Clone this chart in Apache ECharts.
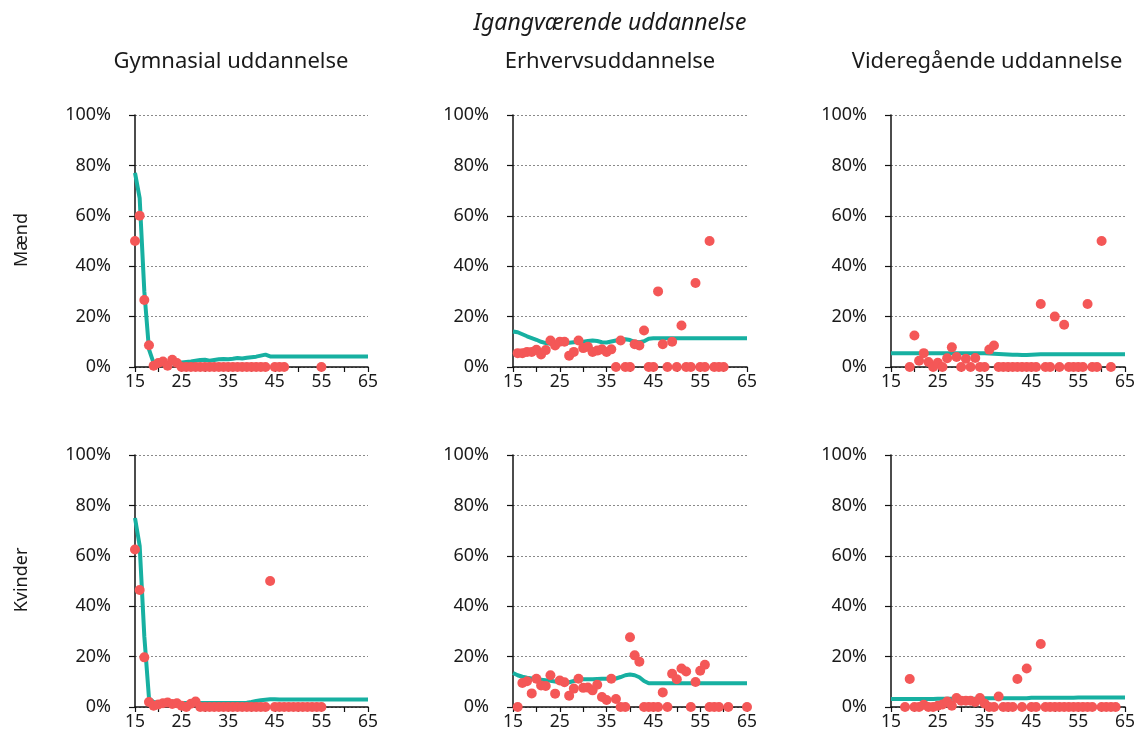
<!DOCTYPE html>
<html>
<head>
<meta charset="utf-8">
<script src="https://cdn.jsdelivr.net/npm/echarts@6/dist/echarts.min.js"></script>
<style>
html,body{margin:0;padding:0;background:#fff;}
#chart{width:1142px;height:751px;}
</style>
</head>
<body>
<div id="chart"></div>
<script>
// ---------- DATA ----------
const mainTitle = 'Igangværende uddannelse';
const columnTitles = ['Gymnasial uddannelse', 'Erhvervsuddannelse', 'Videregående uddannelse'];
const rowTitles = ['Mænd', 'Kvinder'];
const xTickLabels = [15, 25, 35, 45, 55, 65];
const yTickLabels = [0, 20, 40, 60, 80, 100];

// Line (model) ages 15..65
const lineAges = [15,16,17,18,19,20,21,22,23,24,25,26,27,28,29,30,31,32,33,34,35,36,37,38,39,40,
  41,42,43,44,45,46,47,48,49,50,51,52,53,54,55,56,57,58,59,60,61,62,63,64,65];

const lineGymMaend = [77,67,30,7,1.5,1.5,1.5,1.5,1.5,1.6,1.8,2.0,2.2,2.5,2.8,2.9,2.5,2.8,3.1,3.2,
  3.1,3.3,3.6,3.4,3.7,3.9,4.1,4.5,4.9,4.2,4.2,4.2,4.2,4.2,4.2,4.2,4.2,4.2,4.2,4.2,4.2,4.2,4.2,4.2,4.2,4.2,4.2,4.2,4.2,4.2,4.2];
const lineErhvMaend = [14.1,13.8,13.0,12.2,11.5,10.8,10.0,9.5,9.2,9.3,9.4,9.5,9.6,9.8,9.9,10.0,10.3,10.5,10.3,9.8,
  9.7,10.1,10.5,10.8,11.0,10.7,10.0,9.8,10.2,11.2,11.4,11.4,11.4,11.4,11.4,11.4,11.4,11.4,11.4,11.4,11.4,11.4,11.4,11.4,11.4,11.4,11.4,11.4,11.4,11.4,11.4];
const lineVidMaend = [5.5,5.5,5.5,5.5,5.5,5.5,5.5,5.5,5.5,5.5,5.5,5.5,5.5,5.5,5.5,5.5,5.5,5.5,5.5,5.5,5.5,
  5.4,5.3,5.2,5.1,5.0,4.9,4.9,4.8,4.8,4.9,5.0,5.1,5.1,5.1,5.1,5.1,5.1,5.1,5.1,5.1,5.1,5.1,5.1,5.1,5.1,5.1,5.1,5.1,5.1,5.1];
const lineGymKvinder = [75,64,28,3.5,2.0,1.6,1.6,1.6,1.6,1.6,1.6,1.6,1.6,1.6,1.6,1.6,1.6,1.6,1.6,1.6,1.6,1.6,1.6,1.6,
  1.7,2.0,2.4,2.7,2.9,3.1,3.1,3.0,3.0,3.0,3.0,3.0,3.0,3.0,3.0,3.0,3.0,3.0,3.0,3.0,3.0,3.0,3.0,3.0,3.0,3.0,3.0];
const lineErhvKvinder = [13.5,12.6,12.0,11.6,11.3,11.0,10.8,10.6,10.4,10.1,9.9,9.7,9.8,10.3,10.8,11.0,11.0,11.0,11.1,11.2,
  11.2,11.1,11.3,11.9,12.6,12.9,12.6,11.8,10.3,9.4,9.4,9.4,9.4,9.4,9.4,9.4,9.4,9.4,9.4,9.4,9.4,9.4,9.4,9.4,9.4,9.4,9.4,9.4,9.4,9.4,9.4];
const lineVidKvinder = [3.2,3.2,3.2,3.2,3.2,3.2,3.2,3.2,3.2,3.2,3.3,3.3,3.3,3.3,3.3,3.3,3.3,3.3,3.3,3.3,
  3.5,3.5,3.5,3.5,3.5,3.5,3.5,3.5,3.5,3.5,3.7,3.7,3.7,3.7,3.7,3.7,3.7,3.7,3.7,3.7,3.8,3.8,3.8,3.8,3.8,3.8,3.8,3.8,3.8,3.8,3.8];

// Observed points
const ptAgesGymMaend = [15,16,17,18,19,20,21,22,23,24,25,26,27,28,29,30,31,32,33,34,35,36,37,38,39,40,41,42,43,45,46,47,55];
const ptGymMaend = [50,60,26.6,8.6,0.5,1.6,2.2,0.5,2.9,1.6,0,0,0,0,0,0,0,0,0,0,0,0,0,0,0,0,0,0,0,0,0,0,0];

const ptAgesErhvMaend = [16,17,18,19,20,21,22,23,24,25,26,27,28,29,30,31,32,33,34,35,36,37,38,39,40,41,42,43,44,45,
  46,47,48,49,50,51,52,53,54,55,56,57,58,59,60];
const ptErhvMaend = [5.5,5.5,6,6,6.8,5,6.7,10.5,8.5,10,10,4.5,6,10.5,7.5,8,6,6.5,7,6,7,0,10.5,0,0,9,8.5,14.5,0,0,
  30,9,0,10,0,16.5,0,0,33.3,0,0,50,0,0,0];

const ptAgesVidMaend = [19,20,21,22,23,24,25,26,27,28,29,30,31,32,33,34,35,36,37,38,39,40,41,42,43,44,45,46,
  47,48,49,50,51,52,53,54,55,56,57,58,59,60,62];
const ptVidMaend = [0,12.5,2.5,5.5,2,0,1.7,0,3.5,7.8,4,0,3.3,0,3.6,0,0,6.9,8.5,0,0,0,0,0,0,0,0,0,
  25,0,0,20,0,16.8,0,0,0,0,25,0,0,50,0];

const ptAgesGymKvinder = [15,16,17,18,19,20,21,22,23,24,25,26,27,28,29,30,31,32,33,34,35,36,37,38,39,40,41,42,43,44,
  45,46,47,48,49,50,51,52,53,54,55];
const ptGymKvinder = [62.5,46.4,19.7,2,0.5,1,1.5,1.8,1.2,1.5,0.5,0,1.3,2.2,0,0,0,0,0,0,0,0,0,0,0,0,0,0,0,50,
  0,0,0,0,0,0,0,0,0,0,0];

const ptAgesErhvKvinder = [16,17,18,19,20,21,22,23,24,25,26,27,28,29,30,31,32,33,34,35,36,37,38,39,40,41,42,43,44,45,
  46,47,48,49,50,51,52,53,54,55,56,57,58,59,61,65];
const ptErhvKvinder = [0,9.5,10.2,5.4,11.2,8.5,8.3,12.6,5.3,10.5,9.8,4.5,7.3,11.2,7.6,7.7,6.6,8.8,4,2.8,11.2,3.2,0,0,27.7,20.5,18,0,0,0,
  0,5.8,0,13.2,11,15.3,14.1,0,9.9,14.4,16.8,0,0,0,0,0];

const ptAgesVidKvinder = [18,19,20,21,22,23,24,25,26,27,28,29,30,31,32,33,34,35,36,37,38,39,40,41,42,43,44,45,46,47,
  48,49,50,51,52,53,54,55,56,57,58,60,61,62,63];
const ptVidKvinder = [0,11.1,0,0,0.9,0,0,0.5,1,2.2,0.5,3.6,2.5,2.5,2.5,2,3.6,1.4,0,0,4.2,0,0,0,11.1,0,15.3,0,0,25,
  0,0,0,0,0,0,0,0,0,0,0,0,0,0,0];

// ---------- BUILD ----------
const panels = [
  {lineY: lineGymMaend, ptX: ptAgesGymMaend, ptY: ptGymMaend},
  {lineY: lineErhvMaend, ptX: ptAgesErhvMaend, ptY: ptErhvMaend},
  {lineY: lineVidMaend, ptX: ptAgesVidMaend, ptY: ptVidMaend},
  {lineY: lineGymKvinder, ptX: ptAgesGymKvinder, ptY: ptGymKvinder},
  {lineY: lineErhvKvinder, ptX: ptAgesErhvKvinder, ptY: ptErhvKvinder},
  {lineY: lineVidKvinder, ptX: ptAgesVidKvinder, ptY: ptVidKvinder}
];

const FONT = 'Noto Sans';
const TXT = '#1a1a1a';
const TEAL = '#17b0a1';
const RED = '#f45757';
const colLeft = [135, 513, 891];
const colWidth = [233, 234, 234];
const rowTop = [115, 455];
const gridH = 252;

const grids = [], xAxes = [], yAxes = [], series = [];
panels.forEach((p, i) => {
  const c = i % 3, r = Math.floor(i / 3);
  grids.push({left: colLeft[c], top: rowTop[r], width: colWidth[c], height: gridH, containLabel: false});
  xAxes.push({
    type: 'value', gridIndex: i, position: 'bottom', min: xTickLabels[0], max: xTickLabels[xTickLabels.length - 1], interval: 5,
    axisLine: {show: true, onZero: false, lineStyle: {color: '#111', width: 1.5}},
    axisTick: {show: true, length: 5, lineStyle: {color: '#111', width: 1.2}},
    axisLabel: {
      fontFamily: FONT, fontSize: 17.5, color: TXT, margin: 6, verticalAlign: 'top',
      formatter: v => (xTickLabels.indexOf(v) >= 0 ? String(v) : '')
    },
    splitLine: {show: false}
  });
  yAxes.push({
    type: 'value', gridIndex: i, min: yTickLabels[0], max: yTickLabels[yTickLabels.length - 1], interval: 20,
    axisLine: {show: true, lineStyle: {color: '#111', width: 1.5}},
    axisTick: {show: true, length: 6, lineStyle: {color: '#111', width: 1.2}},
    axisLabel: {fontFamily: FONT, fontSize: 18, color: TXT, margin: 24, formatter: '{value}%'},
    splitLine: {show: true, lineStyle: {color: '#8a8a8a', type: [2, 2], width: 1}}
  });
  series.push({
    type: 'line', xAxisIndex: i, yAxisIndex: i, showSymbol: false, symbol: 'none',
    data: lineAges.map((a, k) => [a, p.lineY[k]]),
    lineStyle: {color: TEAL, width: 4}, z: 2, silent: true
  });
  series.push({
    type: 'scatter', xAxisIndex: i, yAxisIndex: i, symbolSize: 10,
    data: p.ptX.map((a, k) => [a, p.ptY[k]]),
    itemStyle: {color: RED, opacity: 1}, z: 3, silent: true
  });
});

const titles = [
  {text: mainTitle, left: 605, top: 7, textAlign: 'center',
   textStyle: {fontFamily: FONT, fontSize: 23, fontWeight: 'normal', fontStyle: 'italic', color: TXT}}
];
const colCenters = [226, 605, 982];
columnTitles.forEach((t, c) => titles.push({
  text: t, left: colCenters[c], top: 46, textAlign: 'center',
  textStyle: {fontFamily: FONT, fontSize: 22, fontWeight: 'normal', color: TXT}
}));

const rowCenters = [240, 580];
const graphics = rowTitles.map((t, r) => ({
  type: 'text', x: 22, y: rowCenters[r], rotation: Math.PI / 2,
  style: {text: t, font: '18px "' + FONT + '"', fill: TXT, textAlign: 'center', textVerticalAlign: 'middle'}
}));

const chart = echarts.init(document.getElementById('chart'), null, {renderer: 'canvas'});
chart.setOption({
  animation: false,
  backgroundColor: '#fff',
  title: titles,
  grid: grids,
  xAxis: xAxes,
  yAxis: yAxes,
  series: series,
  graphic: graphics
});
</script>
</body>
</html>
